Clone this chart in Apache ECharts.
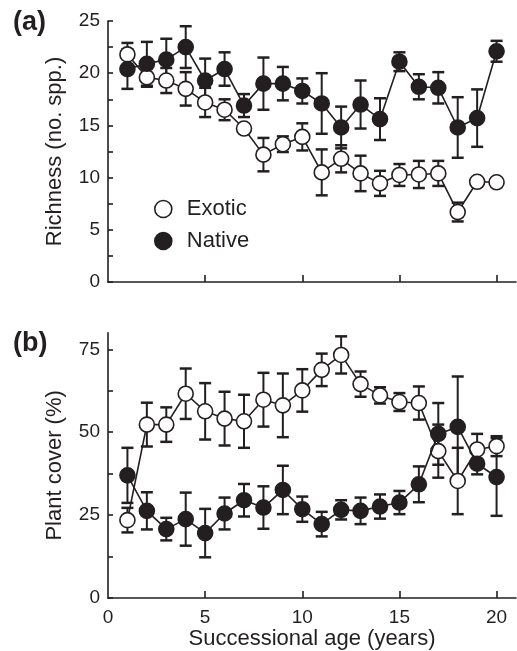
<!DOCTYPE html>
<html>
<head>
<meta charset="utf-8">
<script src="https://cdn.jsdelivr.net/npm/echarts@6/dist/echarts.min.js"></script>
<style>
html,body{margin:0;padding:0;background:#fff;}
#chart{width:517px;height:651px;}
</style>
</head>
<body>
<div id="chart"></div>
<script>
// ---- data ----
const ages = [1,2,3,4,5,6,7,8,9,10,11,12,13,14,15,16,17,18,19,20];
const richExotic   = [21.8,19.6,19.3,18.5,17.2,16.5,14.7,12.2,13.2,13.9,10.5,11.8,10.4,9.45,10.25,10.3,10.4,6.7,9.6,9.55];
const richExoticSE = [1.1,0.9,1.2,1.6,1.4,1.0,0,1.6,0.75,1.3,2.2,1.3,1.7,1.2,1.05,1.3,1.2,0.9,0,0];
const richNative   = [20.4,20.9,21.3,22.5,19.3,20.4,16.9,19.0,19.0,18.3,17.1,14.8,17.0,15.6,21.1,18.7,18.6,14.8,15.7,22.1];
const richNativeSE = [1.9,2.1,2.0,2.0,2.1,1.6,1.1,2.5,1.6,1.2,2.9,2.0,2.3,2.0,0.9,1.2,1.5,2.9,2.75,1.0];
const coverExotic   = [23.5,52.3,52.3,61.6,56.3,54.1,53.3,59.8,58.1,62.6,68.8,73.3,64.5,61.1,59.1,58.8,44.3,35.3,44.8,45.8];
const coverExoticSE = [3.7,6.6,5.2,7.6,8.5,8.1,8.0,8.1,9.6,6.4,4.9,5.6,3.8,2.45,2.7,5.0,8.0,10.0,4.7,3.0];
const coverNative   = [37.0,26.3,20.8,23.8,19.6,25.5,29.5,27.3,32.6,26.8,22.3,26.6,26.3,27.6,28.8,34.3,49.5,51.6,40.5,36.5];
const coverNativeSE = [8.3,5.6,3.4,8.0,7.3,4.8,4.9,6.4,7.3,3.8,3.7,2.9,4.0,3.65,3.5,5.4,9.3,15.2,3.2,11.7];
const xTicks = [5,10,15,20];
const xLabels = [0,5,10,15,20];
const richTicks = [0,2.5,5,7.5,10,12.5,15,17.5,20,22.5,25];
const richLabels = [0,5,10,15,20,25];
const coverTicks = [0,12.5,25,37.5,50,62.5,75];
const coverLabels = [0,25,50,75];

// ---- chart ----
const INK = '#231f20';
const FONT = 'Liberation Sans, Arial, Helvetica, sans-serif';
const chart = echarts.init(document.getElementById('chart'), null, {renderer:'canvas'});

function pairs(v){ return ages.map((a,i)=>[a, v[i]]); }
function triples(v,e){ return ages.map((a,i)=>[a, v[i], e[i]]); }
function errRender(params, api){
  const x = api.value(0), y = api.value(1), e = api.value(2);
  if (!e) return null;
  const t = api.coord([x, y+e]), b = api.coord([x, y-e]);
  const hw = 6;
  const st = {stroke: INK, lineWidth: 2};
  return {type:'group', children:[
    {type:'line', shape:{x1:t[0],y1:t[1],x2:b[0],y2:b[1]}, style:st},
    {type:'line', shape:{x1:t[0]-hw,y1:t[1],x2:t[0]+hw,y2:t[1]}, style:{stroke:INK,lineWidth:2.5}},
    {type:'line', shape:{x1:b[0]-hw,y1:b[1],x2:b[0]+hw,y2:b[1]}, style:{stroke:INK,lineWidth:2.5}}
  ]};
}
function errSeries(idx, v, e){
  return {type:'custom', xAxisIndex:idx, yAxisIndex:idx, renderItem: errRender,
    data: triples(v,e), encode:{x:0, y:1}, z:1, silent:true};
}
function lineSeries(idx, name, v, filled, z){
  return {type:'line', name:name, xAxisIndex:idx, yAxisIndex:idx, data: pairs(v),
    symbol:'circle', symbolSize:15, z:z,
    lineStyle:{color:INK, width:1.6},
    itemStyle:{color: filled ? INK : '#ffffff', borderColor: INK, borderWidth: 1.6, opacity:1},
    emphasis:{disabled:true}, animation:false};
}
function xAxisDef(idx, showLabels, name){
  return {type:'value', gridIndex:idx, min:0, max:21, interval:5,
    axisLine:{lineStyle:{color:INK, width:1.6}},
    axisTick:{inside:true, length:7, lineStyle:{color:INK, width:1.6}, customValues:xTicks},
    axisLabel:{show:showLabels, customValues:xLabels, color:INK, fontSize:19, fontFamily:FONT, margin:10},
    splitLine:{show:false},
    name: name, nameLocation:'middle', nameGap:26,
    nameTextStyle:{color:INK, fontSize:22, fontFamily:FONT}};
}
function yAxisDef(idx, max, ticks, labels, name){
  return {type:'value', gridIndex:idx, min:0, max:max,
    axisLine:{lineStyle:{color:INK, width:1.6}},
    axisTick:{inside:true, length:5, lineStyle:{color:INK, width:1.6}, customValues:ticks},
    axisLabel:{customValues:labels, color:INK, fontSize:19, fontFamily:FONT, margin:8},
    splitLine:{show:false},
    name: name, nameLocation:'middle', nameGap:42,
    nameTextStyle:{color:INK, fontSize:22, fontFamily:FONT}};
}

const option = {
  backgroundColor:'#ffffff',
  animation:false,
  grid:[
    {left:108, top:21, width:408, height:261},
    {left:108, top:332.7, width:408, height:266.6}
  ],
  xAxis:[ xAxisDef(0,false,''), xAxisDef(1,true,'Successional age (years)') ],
  yAxis:[ yAxisDef(0,25,richTicks,richLabels,'Richness (no. spp.)'),
          yAxisDef(1,80,coverTicks,coverLabels,'Plant cover (%)') ],
  legend:{
    orient:'vertical', left:154, top:198, padding:0, itemWidth:17, itemHeight:17, itemGap:10,
    textStyle:{color:INK, fontSize:22, fontFamily:FONT, padding:[0,0,0,10]},
    selectedMode:false,
    data:[
      {name:'Exotic', icon:'circle', itemStyle:{color:'#ffffff', borderColor:INK, borderWidth:1.6}},
      {name:'Native', icon:'circle', itemStyle:{color:INK, borderColor:INK, borderWidth:1.6}}
    ]
  },
  graphic:[
    {type:'text', left:13, top:9, style:{text:'(a)', fill:INK, font:'bold 27px '+FONT}},
    {type:'text', left:13, top:330, style:{text:'(b)', fill:INK, font:'bold 27px '+FONT}}
  ],
  series:[
    errSeries(0, richExotic, richExoticSE),
    errSeries(0, richNative, richNativeSE),
    lineSeries(0, 'Exotic', richExotic, false, 3),
    lineSeries(0, 'Native', richNative, true, 4),
    errSeries(1, coverExotic, coverExoticSE),
    errSeries(1, coverNative, coverNativeSE),
    lineSeries(1, 'Exotic', coverExotic, false, 3),
    lineSeries(1, 'Native', coverNative, true, 4)
  ]
};
chart.setOption(option);
</script>
</body>
</html>
